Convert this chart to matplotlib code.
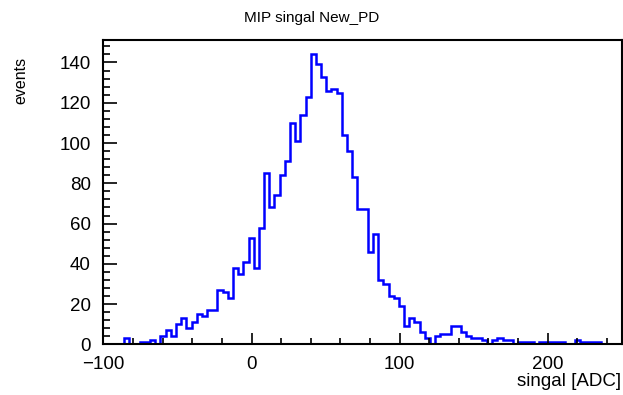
"""
MIP signal spectrum for the new photodiode, drawn as a step histogram.
"""

import numpy as np
import matplotlib as mpl
import matplotlib.pyplot as plt
from matplotlib.ticker import MultipleLocator

mpl.rcParams.update(
    {
        "font.family": ["Liberation Sans", "DejaVu Sans"],
        "axes.linewidth": 1.5,
        "xtick.direction": "in",
        "ytick.direction": "in",
        "xtick.major.width": 1.2,
        "ytick.major.width": 1.2,
        "xtick.minor.width": 1.2,
        "ytick.minor.width": 1.2,
    }
)

# histogram binning: 100 bins from -100 to 250 ADC
bin_lo = -100.0
bin_hi = 250.0
n_bins = 100

counts = [
    0, 0, 0, 0, 3, 0, 0, 1, 1, 2,
    0, 4, 7, 4, 10, 13, 8, 11, 15, 14,
    17, 17, 27, 26, 23, 38, 35, 41, 53, 38,
    58, 85, 68, 74, 84, 91, 110, 101, 114, 123,
    144, 139, 133, 126, 127, 125, 104, 96, 83, 67,
    67, 46, 55, 32, 30, 24, 23, 19, 9, 13,
    11, 6, 3, 0, 4, 5, 5, 9, 9, 6,
    4, 3, 3, 2, 0, 2, 3, 2, 2, 0,
    1, 1, 1, 0, 1, 1, 1, 1, 1, 0,
    0, 2, 1, 1, 1, 1, 0, 0, 0, 0,
]

title = "MIP singal New_PD"
xlabel = "singal [ADC]"
ylabel = "events"

edges = np.linspace(bin_lo, bin_hi, n_bins + 1)
counts = np.array(counts)

fig = plt.figure(figsize=(6.23, 3.95), dpi=100)
ax = fig.add_axes([0.166, 0.128, 0.832, 0.771])

ax.stairs(counts, edges, baseline=0, color=(0, 0, 1), linewidth=1.8)

ax.set_xlim(bin_lo, bin_hi)
ax.set_ylim(0, counts.max() * 1.05)

ax.xaxis.set_major_locator(MultipleLocator(100))
ax.xaxis.set_minor_locator(MultipleLocator(20))
ax.yaxis.set_major_locator(MultipleLocator(20))
ax.yaxis.set_minor_locator(MultipleLocator(4))
ax.tick_params(axis="x", which="major", length=8, labelsize=13.5, pad=8)
ax.tick_params(axis="x", which="minor", length=4)
ax.tick_params(axis="y", which="major", length=10, labelsize=13.5, pad=9)
ax.tick_params(axis="y", which="minor", length=5)

ax.set_xticklabels([f"{v:g}".replace("-", "\u2212") for v in ax.get_xticks()])

fig.text(0.5, 0.955, title, ha="center", va="center", fontsize=11)
fig.text(0.997, 0.035, xlabel, ha="right", va="center", fontsize=13.5)
fig.text(0.033, 0.855, ylabel, ha="center", va="top", rotation=90, fontsize=11.5)

plt.savefig("out.png", dpi=100)
plt.close()
